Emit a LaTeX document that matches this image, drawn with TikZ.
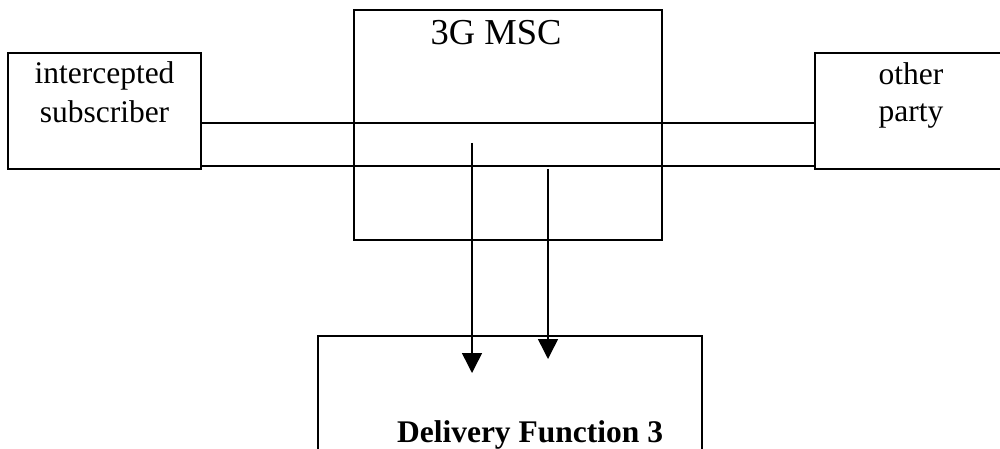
\documentclass[tikz,border=0pt]{standalone}
\usepackage{fontspec}
\setmainfont{Liberation Serif}
\usetikzlibrary{arrows.meta}
\tikzset{
  box/.style={draw, line width=1.5pt, rectangle, inner sep=0pt},
  lbl/.style={anchor=base, inner sep=0pt, font=\fontsize{31.5}{39}\selectfont},
  link/.style={line width=1.5pt},
  feed/.style={line width=1.5pt, -{Triangle[length=20pt,width=20pt]}},
}
\begin{document}
\begin{tikzpicture}[x=1pt,y=-1pt]
\clip (0,0) rectangle (1000,449);
% boxes
\node[box, minimum width=193pt, minimum height=116pt] (sub) at (104.5,111) {};
\node[box, minimum width=308pt, minimum height=230pt] (msc) at (508,125) {};
\node[box, minimum width=190pt, minimum height=116pt] (party) at (910,111) {};
\node[box, minimum width=384pt, minimum height=180pt] (df3) at (510,426) {};
% texts
\node[lbl, font=\fontsize{36.5}{44}\selectfont] (msctxt) at (496,45) {3G MSC};
\node[lbl] (subtxta) at (104.5,84) {intercepted};
\node[lbl] (subtxtb) at (104.5,123) {subscriber};
\node[lbl] (partytxta) at (911,85) {other};
\node[lbl] (partytxtb) at (911,122) {party};
\node[lbl, font=\fontsize{31.5}{39}\selectfont\bfseries] (df3txt) at (530,442) {Delivery Function 3};
% call lines
\draw[link] (sub.east |- 0,123) -- (party.west |- 0,123);
\draw[link] (sub.east |- 0,166) -- (party.west |- 0,166);
% interception
\coordinate (tapa) at (472,143);
\coordinate (enda) at (472,373);
\coordinate (tapb) at (548,169);
\coordinate (endb) at (548,359);
\draw[feed] (tapa) -- (enda);
\draw[feed] (tapb) -- (endb);
\end{tikzpicture}
\end{document}
